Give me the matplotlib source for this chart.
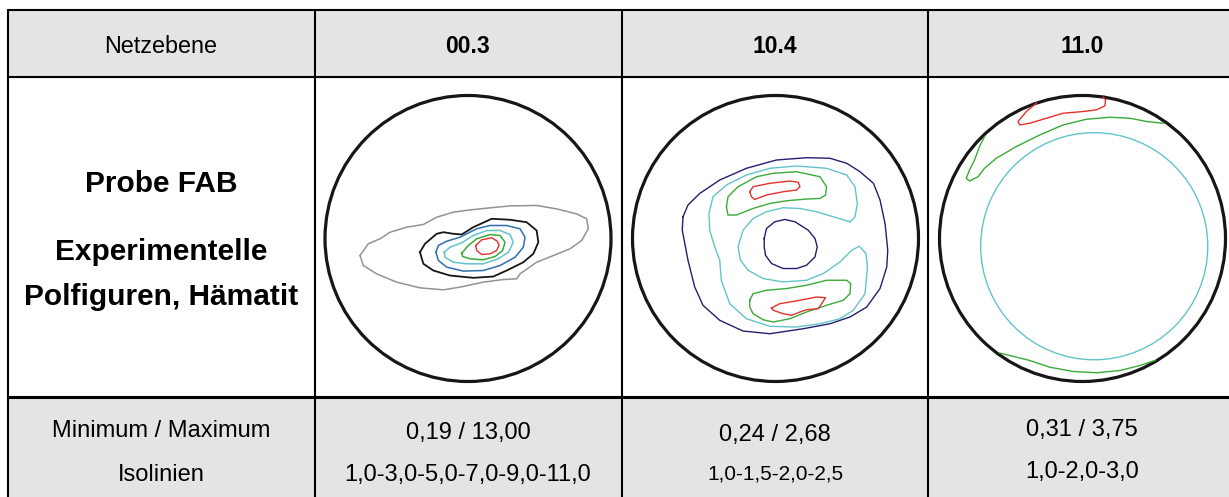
import matplotlib
matplotlib.use("Agg")
import matplotlib.pyplot as plt
from matplotlib.patches import Circle, Rectangle

plt.rcParams['font.family'] = ['Liberation Sans', 'DejaVu Sans']

# ---------------- data ----------------
row_label_header = "Netzebene"
planes = ["00.3", "10.4", "11.0"]
sample_lines = ["Probe FAB", "Experimentelle", "Polfiguren, Hämatit"]
minmax_label = "Minimum / Maximum"
iso_label = "Isolinien"
minmax_values = ["0,19 / 13,00", "0,24 / 2,68", "0,31 / 3,75"]
iso_values = ["1,0-3,0-5,0-7,0-9,0-11,0", "1,0-1,5-2,0-2,5", "1,0-2,0-3,0"]

# pole figure contours, in unit-circle (projection) coordinates
pf1_gray_x = [-0.755, -0.697, -0.615, -0.545, -0.429, -0.312, -0.219, -0.103, 0.014, 0.131, 0.294, 0.480, 0.620, 0.760, 0.830, 0.841, 0.795, 0.713, 0.597, 0.480, 0.364, 0.340, 0.247, 0.107, -0.056, -0.172, -0.336, -0.499, -0.639, -0.732]
pf1_gray_y = [-0.119, -0.037, -0.002, 0.044, 0.079, 0.098, 0.149, 0.184, 0.200, 0.212, 0.228, 0.231, 0.207, 0.172, 0.138, 0.068, -0.014, -0.072, -0.119, -0.166, -0.247, -0.282, -0.287, -0.305, -0.340, -0.359, -0.345, -0.305, -0.247, -0.189]
pf1_black_x = [-0.336, -0.301, -0.219, -0.172, -0.103, -0.044, 0.037, 0.166, 0.294, 0.410, 0.480, 0.492, 0.457, 0.387, 0.270, 0.177, 0.037, -0.126, -0.242, -0.312]
pf1_black_y = [-0.096, -0.037, 0.033, 0.044, 0.033, 0.028, 0.079, 0.138, 0.131, 0.114, 0.056, -0.026, -0.107, -0.166, -0.224, -0.266, -0.275, -0.259, -0.224, -0.177]
pf1_blue_x = [-0.224, -0.207, -0.149, -0.056, 0.061, 0.154, 0.270, 0.364, 0.399, 0.387, 0.329, 0.224, 0.107, -0.033, -0.149, -0.207]
pf1_blue_y = [-0.096, -0.049, -0.019, 0.009, 0.068, 0.091, 0.091, 0.068, 0.009, -0.061, -0.131, -0.189, -0.224, -0.228, -0.200, -0.154]
pf1_cyan_x = [-0.166, -0.126, -0.044, 0.037, 0.131, 0.224, 0.294, 0.317, 0.282, 0.212, 0.107, -0.009, -0.103, -0.161]
pf1_cyan_y = [-0.096, -0.061, -0.030, 0.021, 0.056, 0.056, 0.028, -0.026, -0.096, -0.142, -0.177, -0.177, -0.166, -0.131]
pf1_green_x = [-0.044, 0.002, 0.061, 0.154, 0.224, 0.259, 0.242, 0.189, 0.107, 0.014, -0.037]
pf1_green_y = [-0.103, -0.049, -0.002, 0.028, 0.021, -0.026, -0.084, -0.126, -0.149, -0.142, -0.126]
pf1_red_x = [0.054, 0.096, 0.166, 0.205, 0.217, 0.200, 0.154, 0.096, 0.061]
pf1_red_y = [-0.049, -0.009, 0.005, -0.019, -0.049, -0.084, -0.107, -0.112, -0.084]

pf2_navy_out_x = [-0.647, -0.612, -0.530, -0.390, -0.203, 0.007, 0.217, 0.381, 0.498, 0.591, 0.685, 0.731, 0.766, 0.785, 0.778, 0.731, 0.638, 0.521, 0.381, 0.194, -0.040, -0.227, -0.390, -0.507, -0.565, -0.612, -0.652]
pf2_navy_out_y = [0.152, 0.234, 0.315, 0.409, 0.491, 0.549, 0.565, 0.561, 0.526, 0.467, 0.386, 0.269, 0.105, -0.082, -0.199, -0.350, -0.479, -0.549, -0.596, -0.631, -0.666, -0.647, -0.572, -0.467, -0.339, -0.152, 0.058]
pf2_cyan_x = [0.521, 0.556, 0.572, 0.556, 0.498, 0.357, 0.147, -0.040, -0.203, -0.343, -0.437, -0.465, -0.460, -0.425, -0.390, -0.379, -0.320, -0.203, -0.040, 0.147, 0.311, 0.451, 0.544, 0.626, 0.643, 0.633, 0.586, 0.533, 0.451, 0.334, 0.217, 0.054, -0.086, -0.192, -0.245, -0.262, -0.227, -0.157, -0.063, 0.054, 0.171, 0.287, 0.404]
pf2_cyan_y = [0.117, 0.152, 0.245, 0.362, 0.444, 0.491, 0.507, 0.491, 0.444, 0.374, 0.292, 0.175, 0.058, -0.058, -0.152, -0.292, -0.456, -0.561, -0.614, -0.619, -0.596, -0.561, -0.502, -0.386, -0.199, -0.105, -0.054, -0.082, -0.164, -0.245, -0.292, -0.304, -0.280, -0.222, -0.152, -0.058, 0.058, 0.140, 0.187, 0.215, 0.210, 0.187, 0.152]
pf2_navy_in_x = [-0.079, -0.063, -0.005, 0.065, 0.136, 0.229, 0.276, 0.292, 0.276, 0.217, 0.147, 0.054, -0.028, -0.070, -0.079]
pf2_navy_in_y = [0.000, 0.070, 0.117, 0.133, 0.117, 0.058, 0.000, -0.058, -0.129, -0.187, -0.210, -0.210, -0.175, -0.117, -0.058]
pf2_green_top_x = [-0.343, -0.332, -0.262, -0.133, -0.016, 0.147, 0.311, 0.357, 0.350, 0.311, 0.217, 0.077, -0.040, -0.157, -0.273, -0.332]
pf2_green_top_y = [0.222, 0.292, 0.362, 0.432, 0.456, 0.467, 0.432, 0.362, 0.304, 0.280, 0.276, 0.264, 0.245, 0.210, 0.164, 0.164]
pf2_red_top_x = [-0.180, -0.157, -0.040, 0.100, 0.159, 0.171, 0.147, 0.054, -0.063, -0.145, -0.168]
pf2_red_top_y = [0.327, 0.362, 0.386, 0.402, 0.393, 0.362, 0.339, 0.327, 0.304, 0.273, 0.292]
pf2_green_bot_x = [-0.180, -0.157, -0.063, 0.077, 0.217, 0.357, 0.498, 0.526, 0.521, 0.474, 0.357, 0.217, 0.100, -0.016, -0.086, -0.157, -0.180]
pf2_green_bot_y = [-0.432, -0.386, -0.362, -0.350, -0.327, -0.292, -0.292, -0.315, -0.386, -0.432, -0.467, -0.514, -0.561, -0.584, -0.568, -0.526, -0.479]
pf2_red_bot_x = [-0.028, 0.030, 0.171, 0.287, 0.350, 0.322, 0.299, 0.217, 0.171, 0.112, 0.054, -0.016]
pf2_red_bot_y = [-0.486, -0.456, -0.432, -0.409, -0.414, -0.456, -0.491, -0.498, -0.514, -0.537, -0.526, -0.502]

pf3_cyan_center = (0.082, -0.054)
pf3_cyan_radius = 0.794
pf3_green_top_x = [-0.685, -0.720, -0.755, -0.790, -0.813, -0.790, -0.731, -0.685, -0.603, -0.463, -0.299, -0.136, 0.028, 0.192, 0.332, 0.449, 0.565]
pf3_green_top_y = [0.713, 0.643, 0.549, 0.479, 0.421, 0.402, 0.432, 0.491, 0.561, 0.643, 0.724, 0.794, 0.834, 0.848, 0.841, 0.818, 0.806]
pf3_red_x = [-0.322, -0.393, -0.451, -0.439, -0.369, -0.252, -0.136, 0.005, 0.098, 0.157, 0.161, 0.145]
pf3_red_y = [0.946, 0.888, 0.818, 0.794, 0.806, 0.841, 0.876, 0.888, 0.900, 0.928, 0.970, 0.988]
pf3_green_bot_x = [-0.579, -0.509, -0.369, -0.229, -0.065, 0.098, 0.262, 0.402, 0.507]
pf3_green_bot_y = [-0.801, -0.818, -0.853, -0.900, -0.930, -0.939, -0.923, -0.888, -0.853]

# colours
C_GRAY = "#8e9499"
C_BLACK = "#161616"
C_BLUE = "#2f6fb0"
C_CYAN = "#62c4ca"
C_GREEN = "#3aaa38"
C_RED = "#e4312c"
C_NAVY = "#22206e"
HEADER_BG = "#e4e4e4"

# ---------------- layout ----------------
W, H = 1229, 497
fig = plt.figure(figsize=(W / 100, H / 100), dpi=100)
ax = fig.add_axes([0, 0, 1, 1])
ax.set_xlim(0, W)
ax.set_ylim(H, 0)
ax.axis("off")

col_x = [8, 315, 622, 928, W + 2]
row_y = [10, 77, 396.5, H + 2]
text_cx = [161, 468, 775, 1082]

ax.add_patch(Rectangle((col_x[0], row_y[0]), W - col_x[0], row_y[1] - row_y[0], color=HEADER_BG, zorder=0))
ax.add_patch(Rectangle((col_x[0], row_y[2]), W - col_x[0], row_y[3] - row_y[2], color=HEADER_BG, zorder=0))

lw_grid = 1.5
ax.plot([col_x[0], W], [row_y[0], row_y[0]], color="black", lw=lw_grid, solid_capstyle="butt")
ax.plot([col_x[0], W], [row_y[1], row_y[1]], color="black", lw=lw_grid, solid_capstyle="butt")
ax.plot([col_x[0], W], [row_y[2], row_y[2]], color="black", lw=2.2, solid_capstyle="butt")
for xc in col_x[:4]:
    ax.plot([xc, xc], [row_y[0] - 0.7, H], color="black", lw=lw_grid, solid_capstyle="butt")

# header texts
ax.text(text_cx[0], 53, row_label_header, ha="center", va="baseline", fontsize=16.8)
for cx, t in zip(text_cx[1:], planes):
    ax.text(cx, 53, t, ha="center", va="baseline", fontsize=16.5, fontweight="bold")

# sample description
for yb, t in zip([192, 260, 305], sample_lines):
    ax.text(text_cx[0], yb, t, ha="center", va="baseline", fontsize=21.5, fontweight="bold")

# bottom rows
ax.text(text_cx[0], 437, minmax_label, ha="center", va="baseline", fontsize=17)
ax.text(text_cx[0], 481, iso_label, ha="center", va="baseline", fontsize=17)
mm_base = [439, 441, 436]
iso_base = [481, 480, 478]
iso_size = [17, 15, 17]
for cx, t, yb in zip(text_cx[1:], minmax_values, mm_base):
    ax.text(cx, yb, t, ha="center", va="baseline", fontsize=17)
for cx, t, yb, fs in zip(text_cx[1:], iso_values, iso_base, iso_size):
    ax.text(cx, yb, t, ha="center", va="baseline", fontsize=fs)

# pole figure axes
pf_centers = [(468, 238.5), (775.5, 238.5), (1082.5, 238.5)]
pf_radius = 143


def pf_axes(cx, cy, r):
    a = fig.add_axes([(cx - r) / W, 1 - (cy + r) / H, 2 * r / W, 2 * r / H])
    a.set_xlim(-1, 1)
    a.set_ylim(-1, 1)
    a.set_aspect("equal")
    a.axis("off")
    a.add_patch(Circle((0, 0), 1, fill=False, ec=C_BLACK, lw=2.3, clip_on=False))
    return a


def closed(a, xs, ys, color, lw=1.0):
    a.plot(list(xs) + [xs[0]], list(ys) + [ys[0]], color=color, lw=lw,
           clip_on=False, solid_joinstyle="round")


a1 = pf_axes(*pf_centers[0], pf_radius)
closed(a1, pf1_gray_x, pf1_gray_y, C_GRAY, 1.1)
closed(a1, pf1_black_x, pf1_black_y, C_BLACK, 1.3)
closed(a1, pf1_blue_x, pf1_blue_y, C_BLUE, 1.1)
closed(a1, pf1_cyan_x, pf1_cyan_y, C_CYAN, 1.1)
closed(a1, pf1_green_x, pf1_green_y, C_GREEN, 1.1)
closed(a1, pf1_red_x, pf1_red_y, C_RED, 1.0)

a2 = pf_axes(*pf_centers[1], pf_radius)
closed(a2, pf2_navy_out_x, pf2_navy_out_y, C_NAVY, 1.0)
closed(a2, pf2_cyan_x, pf2_cyan_y, C_CYAN, 1.0)
closed(a2, pf2_navy_in_x, pf2_navy_in_y, C_NAVY, 1.0)
closed(a2, pf2_green_top_x, pf2_green_top_y, C_GREEN, 1.0)
closed(a2, pf2_red_top_x, pf2_red_top_y, C_RED, 1.0)
closed(a2, pf2_green_bot_x, pf2_green_bot_y, C_GREEN, 1.0)
closed(a2, pf2_red_bot_x, pf2_red_bot_y, C_RED, 1.0)

a3 = pf_axes(*pf_centers[2], pf_radius)
a3.add_patch(Circle(pf3_cyan_center, pf3_cyan_radius, fill=False, ec=C_CYAN, lw=1.0))
a3.plot(pf3_green_top_x, pf3_green_top_y, color=C_GREEN, lw=1.0, solid_joinstyle="round")
a3.plot(pf3_red_x, pf3_red_y, color=C_RED, lw=1.0, solid_joinstyle="round")
a3.plot(pf3_green_bot_x, pf3_green_bot_y, color=C_GREEN, lw=1.0, solid_joinstyle="round")

fig.savefig("out.png", dpi=100)
